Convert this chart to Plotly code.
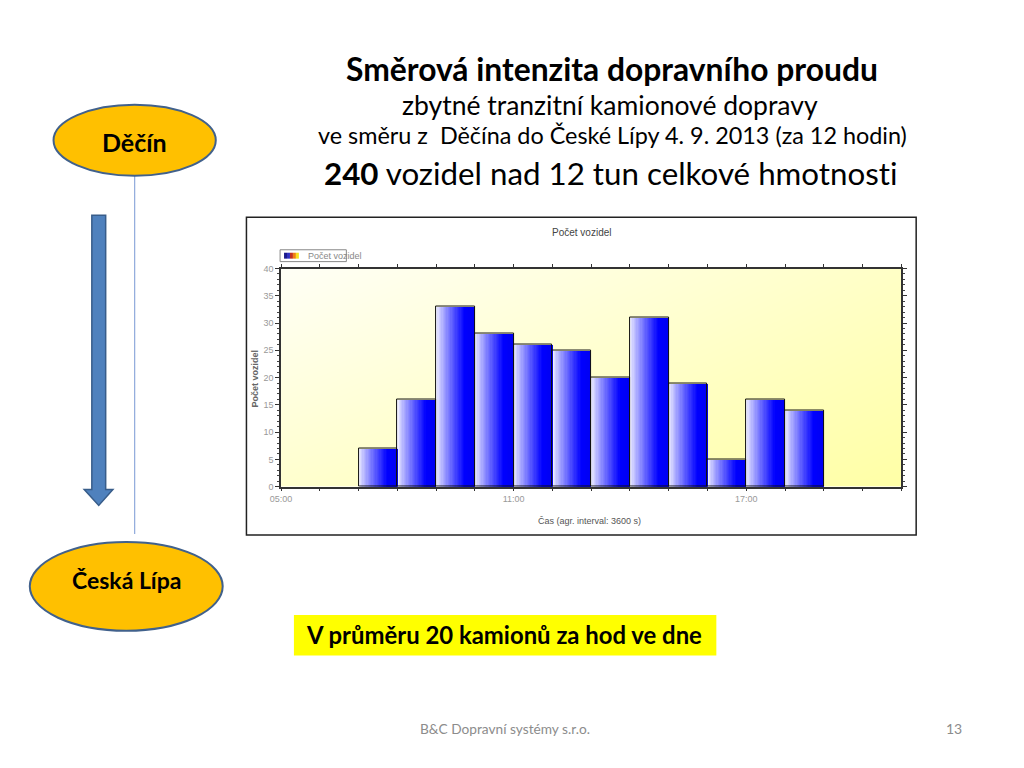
import plotly.graph_objects as go

# ---------------- data ----------------
start_hours = [7, 8, 9, 10, 11, 12, 13, 14, 15, 16, 17, 18]
vehicles = [7, 16, 33, 28, 26, 25, 20, 31, 19, 5, 16, 14]
x_tick_hours = list(range(5, 22))
x_labels = {5: "05:00", 11: "11:00", 17: "17:00"}
y_ticks = [0, 5, 10, 15, 20, 25, 30, 35, 40]

W, H = 1024, 768
def X(p):
    return p / W
def Y(p):
    return 1 - p / H

FONT = "Lato"
NARROW = "Liberation Sans Narrow, Arial Narrow, Liberation Sans, Arial"

fig = go.Figure()

# plot background: smooth diagonal pale-yellow gradient (heatmap is layered below bars)
fig.add_trace(go.Heatmap(x=[5, 21], y=[0, 40], z=[[0.5, 1.0], [0.0, 0.6]], zsmooth="best",
                         colorscale=[[0, "#fffff6"], [1, "#ffffa6"]], zmin=0, zmax=1,
                         showscale=False, hoverinfo="skip"))

# gradient bars drawn as overlapping slices
N = 30
for k in range(N):
    t = k / (N - 1)
    g = min(t / 0.75, 1.0)
    g = g ** 0.85
    r = int(238 * (1 - g))
    gg = int(238 * (1 - g))
    b = int(255 - 12 * max(0, t - 0.75) / 0.25)
    fig.add_trace(go.Bar(x=start_hours, y=vehicles, offset=k / N, width=(N - k) / N,
                         marker=dict(color=f"rgb({r},{gg},{b})", line=dict(width=0)),
                         hoverinfo="skip", showlegend=False))
# outlines
fig.add_trace(go.Bar(x=start_hours, y=vehicles, offset=0, width=1,
                     marker=dict(color="rgba(0,0,0,0)", line=dict(color="#111", width=1)),
                     name="Počet vozidel", showlegend=False))

fig.update_layout(
    width=W, height=H, margin=dict(l=0, r=0, t=0, b=0),
    paper_bgcolor="white", plot_bgcolor="white",
    barmode="overlay", bargap=0,
    showlegend=False,
    xaxis=dict(range=[5, 21], domain=[X(273), X(900)], tickvals=x_tick_hours,
               ticktext=[x_labels.get(h, "") for h in x_tick_hours],
               ticks="outside", ticklen=3, tickcolor="#333", showline=True, linecolor="#333",
               linewidth=1.5, mirror="allticks", showgrid=False, zeroline=False,
               tickfont=dict(family=NARROW, size=9, color="#999")),
    yaxis=dict(range=[0, 40], domain=[Y(488), Y(267)], tickvals=y_ticks,
               ticks="outside", ticklen=4, tickcolor="#333", showline=True, linecolor="#333",
               linewidth=1.5, mirror="allticks", showgrid=False, zeroline=False,
               minor=dict(dtick=1, ticks="outside", ticklen=2, tickcolor="#444"),
               tickfont=dict(family=NARROW, size=9, color="#999")),
)

shapes = []
# chart frame
shapes.append(dict(type="rect", xref="paper", yref="paper", x0=X(238), x1=X(915), y0=Y(537), y1=Y(215),
                   line=dict(color="#222", width=1.5), layer="below"))
# legend box
shapes.append(dict(type="rect", xref="paper", yref="paper", x0=X(272), x1=X(339), y0=Y(260), y1=Y(248),
                   line=dict(color="#888", width=1), fillcolor="white"))
sw_cols = ["#1a1a8c", "#3030c0", "#c03020", "#f08010", "#f8e020"]
for i, c in enumerate(sw_cols):
    shapes.append(dict(type="rect", xref="paper", yref="paper", x0=X(276 + 3 * i), x1=X(279 + 3 * i),
                       y0=Y(257), y1=Y(251), line=dict(width=0), fillcolor=c))
# vertical thin line
shapes.append(dict(type="line", xref="paper", yref="paper", x0=X(125), x1=X(125), y0=Y(173), y1=Y(536),
                   line=dict(color="#8faadc", width=1.2)))
# ellipses
shapes.append(dict(type="circle", xref="paper", yref="paper", x0=X(43), x1=X(207), y0=Y(173), y1=Y(101),
                   fillcolor="#ffc000", line=dict(color="#41618c", width=2)))
shapes.append(dict(type="circle", xref="paper", yref="paper", x0=X(19), x1=X(214), y0=Y(634), y1=Y(544),
                   fillcolor="#ffc000", line=dict(color="#41618c", width=2)))
# block arrow
pts = [(81.7, 213), (95.7, 213), (95.7, 491), (103, 491), (88.7, 507), (74, 491), (81.7, 491)]
path = "M " + " L ".join(f"{X(a):.5f},{Y(b):.5f}" for a, b in pts) + " Z"
shapes.append(dict(type="path", xref="paper", yref="paper", path=path,
                   fillcolor="#4f81bd", line=dict(color="#385d8a", width=1.5)))
# yellow box
shapes.append(dict(type="rect", xref="paper", yref="paper", x0=X(286), x1=X(713), y0=Y(659), y1=Y(618),
                   fillcolor="#ffff00", line=dict(width=0)))
fig.update_layout(shapes=shapes)

def ann(text, x, y, size, color="black", xanchor="center", family=FONT, angle=0):
    fig.add_annotation(text=text, x=X(x), y=Y(y), xref="paper", yref="paper", showarrow=False,
                       xanchor=xanchor, yanchor="middle", textangle=angle,
                       font=dict(family=family, size=size, color=color))

ann("<b>Směrová intenzita dopravního proudu</b>", 608, 65, 31.8)
ann("zbytné tranzitní kamionové dopravy", 606, 101, 26.5)
ann("ve směru z  Děčína do České Lípy 4. 9. 2013 (za 12 hodin)", 608, 132, 23.4)
ann("<b>240</b> vozidel nad 12 tun celkové hmotnost\u200ci", 607, 170, 31.3)
ann("<b>Děčín</b>", 125, 139, 25)
ann("<b>Česká Lípa</b>", 117, 583, 23)
ann("<b>V průměru 20 kamionů za hod ve dne</b>", 296, 638, 23.9, xanchor="left")
ann("B&C Dopravní systémy s.r.o.", 499, 733, 13.7, color="#8c8c8c")
ann("13", 953, 733, 14, color="#8c8c8c")
# chart texts
ann("Počet vozidel", 577, 231, 10, color="#444", family=NARROW)
ann("Počet vozidel", 298, 254, 9, color="#888", family=NARROW, xanchor="left")
ann("<b>Počet vozidel</b>", 247, 378, 9, color="#666", family=NARROW, angle=-90)
ann("Čas (agr. interval: 3600 s)", 585, 523, 9, color="#555", family=NARROW)

fig.write_html("out.html", post_script="document.body.style.margin='0';",
               config={"displayModeBar": False})
